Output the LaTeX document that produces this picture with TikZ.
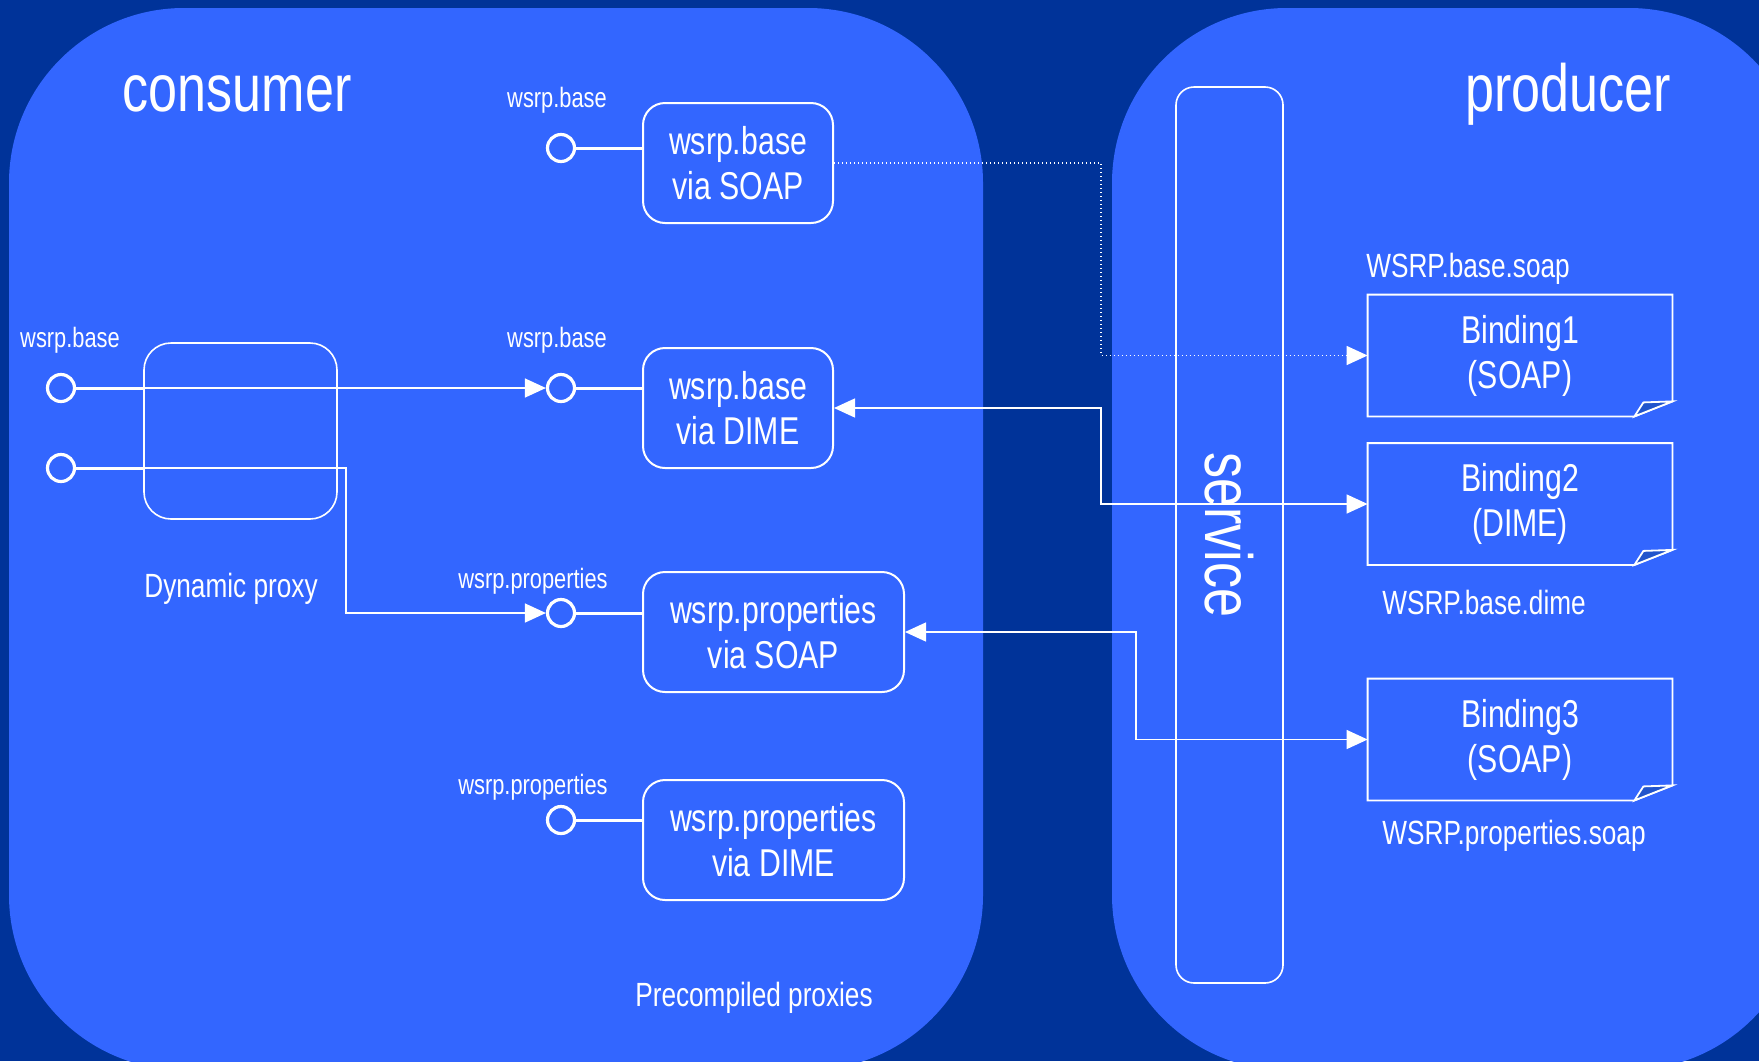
\documentclass[tikz,border=0pt]{standalone}
\usepackage{fontspec}
\setmainfont[FakeStretch=0.78]{Liberation Sans}
\usetikzlibrary{arrows.meta}
\definecolor{navy}{RGB}{0,51,153}
\definecolor{panelblue}{RGB}{51,102,255}
\definecolor{foldblue}{RGB}{34,85,204}

\begin{document}
\begin{tikzpicture}[x=0.5pt,y=-0.5pt,
  every node/.style={text=white},
  heading/.style={font=\fontsize{33.4pt}{40pt}\selectfont, inner sep=0pt, anchor=base},
  portlabel/.style={font=\fontsize{14pt}{17pt}\selectfont, inner sep=0pt, anchor=base},
  caption/.style={font=\fontsize{16.8pt}{20pt}\selectfont, inner sep=0pt, anchor=base},
  boxtext/.style={font=\fontsize{19.4pt}{22.5pt}\selectfont, align=center, inner sep=0pt},
  proxybox/.style={boxtext, draw=white, line width=1pt, rounded corners=11pt,
    minimum width=95pt, minimum height=60pt},
  wideproxy/.style={proxybox, minimum width=130.5pt},
  binding/.style={boxtext, minimum width=152pt, minimum height=60.5pt},
  port/.style={circle, draw=white, line width=1.6pt, fill=panelblue,
    minimum size=13.5pt, inner sep=0pt},
  stub/.style={draw=white, line width=1.5pt},
  tip/.tip={Triangle[length=10.5pt,width=9.5pt]},
  conn/.style={draw=white, line width=0.7pt, -tip},
  dual/.style={draw=white, line width=0.7pt, tip-tip},
  dotlink/.style={draw=white, line width=0.7pt, dash pattern=on 0.7pt off 1.3pt, -tip},
  outline/.style={draw=white, line width=0.9pt, line join=miter},
]
% background and the two rounded panels
\fill[navy, use as bounding box] (0,0) rectangle (1759,1061);
\begin{scope}
  \clip (0,0) rectangle (1759,1061);
  \fill[panelblue, rounded corners=87.5pt] (9,8) rectangle (983,1070);
  \fill[panelblue, rounded corners=87.5pt] (1112,8) rectangle (1804,1070);
\end{scope}

% titles
\node[heading] (consumer) at (237,111) {consumer};
\node[heading] (producer) at (1568,111) {producer};

% service column
\node[draw=white, line width=0.8pt, rounded corners=9pt, rotate=-90,
      minimum width=448pt, minimum height=53.5pt, inner sep=0pt,
      font=\fontsize{33.4pt}{40pt}\selectfont] (service) at (1229.5,535) {service};

% dynamic proxy
\node[draw=white, line width=0.8pt, rounded corners=13.5pt,
      minimum width=96.5pt, minimum height=88pt, inner sep=0pt] (proxy) at (240.5,431) {};
\node[caption] (dynlabel) at (231,597) {Dynamic proxy};
\node[portlabel] (lbl0) at (70,347) {wsrp.base};
\node[port] (pl1) at (61,388) {};
\node[port] (pl2) at (61,468) {};
\draw[stub] (pl1) -- (pl1 -| proxy.west);
\draw[stub] (pl2) -- (pl2 -| proxy.west);

% precompiled proxies
\node[proxybox] (box1) at (738,163) {wsrp.base\\via SOAP};
\node[proxybox] (box2) at (738,408) {wsrp.base\\via DIME};
\node[wideproxy] (box3) at (773.5,632) {wsrp.properties\\via SOAP};
\node[wideproxy] (box4) at (773.5,840) {wsrp.properties\\via DIME};
\node[caption] (prelabel) at (754,1006) {Precompiled proxies};

\node[port] (pm1) at (561,148) {};
\node[port] (pm2) at (561,388) {};
\node[port] (pm3) at (561,613) {};
\node[port] (pm4) at (561,820) {};
\draw[stub] (pm1) -- (pm1 -| box1.west);
\draw[stub] (pm2) -- (pm2 -| box2.west);
\draw[stub] (pm3) -- (pm3 -| box3.west);
\draw[stub] (pm4) -- (pm4 -| box4.west);
\node[portlabel] (lbl1) at (557,107) {wsrp.base};
\node[portlabel] (lbl2) at (557,347) {wsrp.base};
\node[portlabel] (lbl3) at (533,588) {wsrp.properties};
\node[portlabel] (lbl4) at (533,794) {wsrp.properties};

% routes out of the dynamic proxy
\draw[conn] (pl1 -| proxy.west) -- (pm2);
\coordinate (bendA) at (346,468);
\draw[conn] (pl2 -| proxy.west) -- (bendA) |- (pm3);

% bindings with folded corner
\node[binding] (bind1) at (1520,355.5) {Binding1\\(SOAP)};
\node[binding] (bind2) at (1520,504) {Binding2\\(DIME)};
\node[binding] (bind3) at (1520,739.5) {Binding3\\(SOAP)};
\foreach \b in {bind1,bind2,bind3}{
  \draw[outline] (\b.north west) -- (\b.north east) -- ([yshift=7.5pt]\b.south east)
    -- ([xshift=-19pt]\b.south east) -- (\b.south west) -- cycle;
  \filldraw[outline, fill=foldblue] ([xshift=-19pt]\b.south east)
    -- ([xshift=-14.5pt,yshift=7pt]\b.south east) -- ([yshift=7.5pt]\b.south east) -- cycle;
}
\node[caption] (wb1) at (1468,277) {WSRP.base.soap};
\node[caption] (wb2) at (1484,614) {WSRP.base.dime};
\node[caption] (wb3) at (1514,844) {WSRP.properties.soap};

% links between proxies and bindings
\coordinate (j1) at (1101,355.5);
\coordinate (j2) at (1101,504);
\coordinate (j3) at (1136,739.5);
\draw[dotlink] (box1.east) -| (j1) -- (bind1.west);
\draw[dual] (box2.east) -| (j2) -- (bind2.west);
\draw[dual] (box3.east) -| (j3) -- (bind3.west);
\end{tikzpicture}
\end{document}
